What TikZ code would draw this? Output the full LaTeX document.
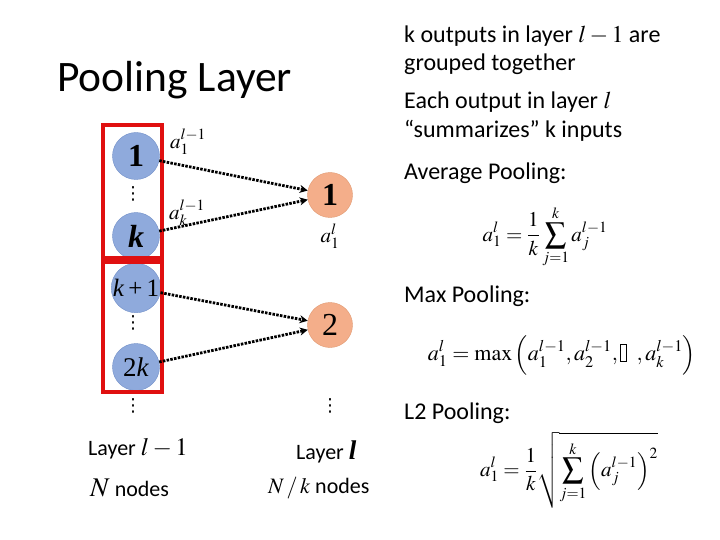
\documentclass[tikz,border=0pt]{standalone}
\usepackage{amsmath}
\usepackage{mathptmx}
\usepackage[no-math]{fontspec}
\setmainfont{Carlito}
\newfontfamily\timesfont{Liberation Serif}
\newfontfamily\symfont{DejaVu Sans}
\usetikzlibrary{arrows.meta, positioning}

\definecolor{nodeblue}{HTML}{8FAADC}
\definecolor{nodeblueline}{HTML}{7290C8}
\definecolor{nodeorange}{HTML}{F4AE8A}
\definecolor{nodeorangeline}{HTML}{E0986F}
\definecolor{groupred}{HTML}{E01010}

\newcommand{\tofu}{\mbox{\setlength{\fboxsep}{0pt}\setlength{\fboxrule}{0.5pt}\fbox{\rule{0.25em}{0pt}\rule{0pt}{0.75em}}}}
\newcommand{\vdotsglyph}{{\symfont ⋮}}

\begin{document}
\begin{tikzpicture}[
    x=1pt, y=-1pt,
    innode/.style={circle, draw=nodeblueline, fill=nodeblue, minimum size=47pt, inner sep=0pt, font=\timesfont\fontsize{32}{32}\selectfont},
    outnode/.style={circle, draw=nodeorangeline, fill=nodeorange, minimum size=45pt, inner sep=0pt, font=\timesfont\fontsize{32}{32}\selectfont},
    arrow/.style={-{Stealth[length=8pt, width=8pt]}, line width=2.8pt, dash pattern=on 2.5pt off 1.3pt},
    redbox/.style={draw=groupred, line width=4pt},
    label/.style={font=\fontsize{21}{21}\selectfont, inner sep=0pt},
    dotlabel/.style={font=\fontsize{18}{18}\selectfont, inner sep=0pt},
    txt/.style={anchor=west, font=\fontsize{24}{28}\selectfont, inner sep=0pt},
    caption/.style={anchor=west, font=\fontsize{22}{26}\selectfont, inner sep=0pt}
  ]
  \useasboundingbox (0,0) rectangle (720,540);

  % Title
  \node[anchor=west, inner sep=0pt, font=\fontsize{43.5}{46}\selectfont] (title) at (57,80) {Pooling Layer};

  % Input layer (layer l-1)
  \node (in1)  [innode] at (136,156) {\textbf{1}};
  \node (ink)  [innode] at (136,236) {\textbf{\textit{k}}};
  \node (ink1) [innode, font=\timesfont\fontsize{25}{25}\selectfont] at (136,288) {\textit{k}\,+\,1};
  \node (in2k) [innode, font=\timesfont\fontsize{27}{27}\selectfont] at (136,367) {2\textit{k}};
  \node (dots1) [dotlabel] at (133,194) {\vdotsglyph};
  \node (dots2) [dotlabel] at (133,323) {\vdotsglyph};
  \node (dots3) [dotlabel] at (133,406) {\vdotsglyph};

  % Groups of k
  \draw[redbox] (103,125) rectangle (162,258);
  \draw[redbox] (103,262) rectangle (162,392);

  % Output layer (layer l)
  \node (out1) [outnode] at (330,195) {\textbf{1}};
  \node (out2) [outnode] at (330,325) {2};
  \node (dots4) [dotlabel] at (330,406) {\vdotsglyph};

  % Activations
  \node (a1) [label] at (188,142) {$a_1^{l-1}$};
  \node (ak) [label] at (187,213) {$a_k^{l-1}$};
  \node (aout) [label, below=6pt of out1] {$a_1^{l}$};

  % Pooling connections
  \draw[arrow] (in1) -- (out1);
  \draw[arrow] (ink) -- (out1);
  \draw[arrow] (ink1) -- (out2);
  \draw[arrow] (in2k) -- (out2);

  % Layer captions
  \node (lay1) [caption] at (88,449) {Layer {\fontsize{25}{26}\selectfont$l-1$}};
  \node (n1) [caption] at (90,488) {{\fontsize{27}{26}\selectfont$N$} nodes};
  \node (lay2) [caption] at (296,452) {Layer {\timesfont\fontsize{27}{26}\selectfont\textbf{\textit{l}}}};
  \node (n2) [caption] at (268,488) {{\fontsize{22}{26}\selectfont$N\,/\,k$} nodes};

  % Notes
  \node (note1) [txt] at (404,36) {k outputs in layer $l-1$ are};
  \node (note2) [txt] at (404,64) {grouped together};
  \node (note3) [txt] at (404,102) {Each output in layer $l$};
  \node (note4) [txt] at (404,131) {``summarizes'' k inputs};

  % Pooling types
  \node (avg) [txt] at (404,173) {Average Pooling:};
  \node (favg) [font=\fontsize{21}{24}\selectfont, inner sep=0pt] at (545,237) {$\displaystyle a_1^l=\frac{1}{k}\sum_{j=1}^{k}a_j^{l-1}$};
  \node (max) [txt] at (404,296) {Max Pooling:};
  \node (fmax) [font=\fontsize{22}{24}\selectfont, inner sep=0pt] at (562,355) {$\displaystyle a_1^l=\max\left(a_1^{l-1},a_2^{l-1},\tofu\ \ ,a_k^{l-1}\right)$};
  \node (l2) [txt] at (404,413) {L2 Pooling:};
  \node (fl2) [font=\fontsize{21}{24}\selectfont, inner sep=0pt] at (569,470) {$\displaystyle a_1^l=\frac{1}{k}\sqrt{\sum_{j=1}^{k}\left(a_j^{l-1}\right)^2}$};
\end{tikzpicture}
\end{document}
